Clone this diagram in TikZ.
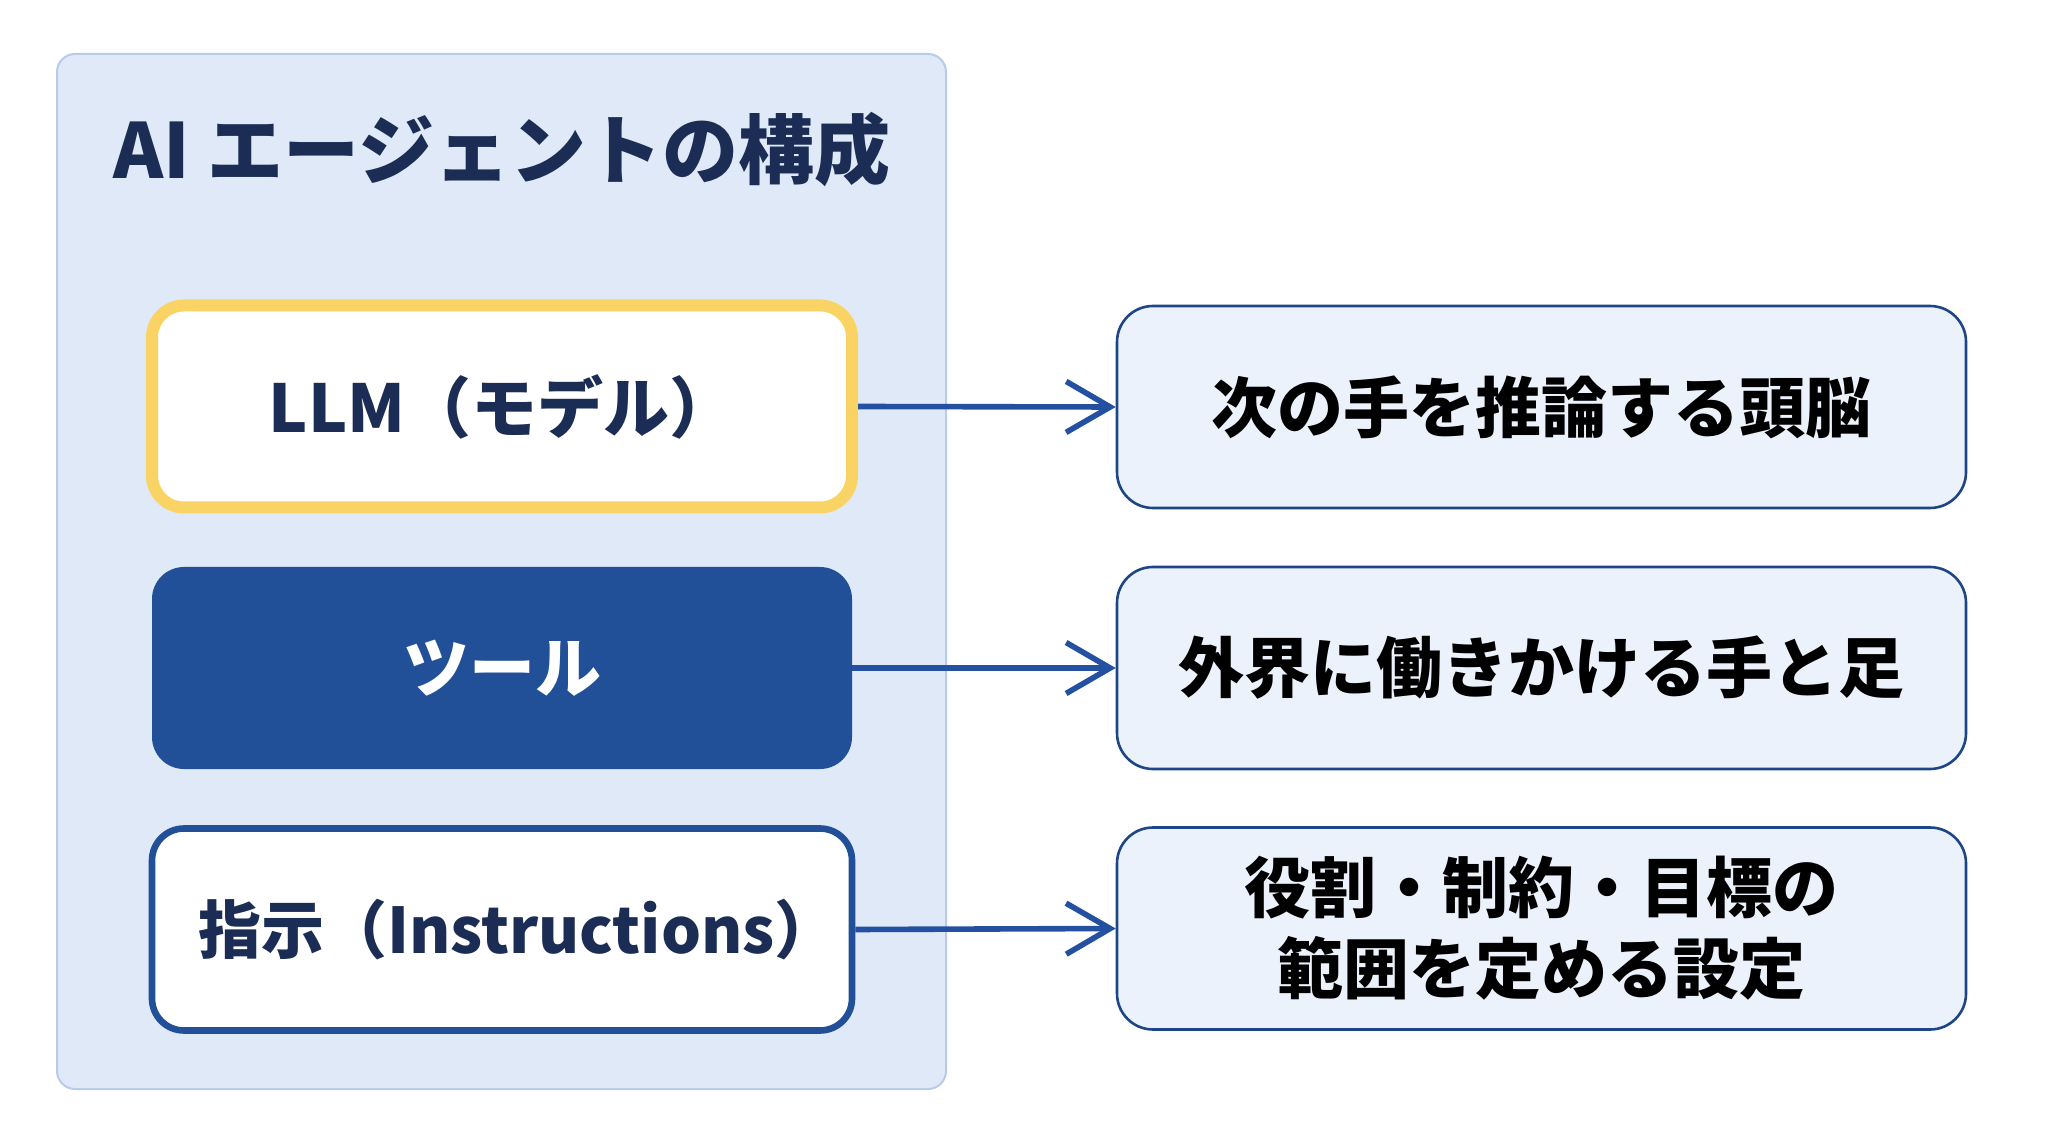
\documentclass[tikz,border=0pt]{standalone}
\usepackage{fontspec}
\setmainfont{Noto Sans CJK JP}[BoldFont={Noto Sans CJK JP Black}]
\usetikzlibrary{arrows.meta}
\definecolor{panelfill}{HTML}{DFE9F7}
\definecolor{panelline}{HTML}{B8CBE8}
\definecolor{llmyellow}{HTML}{F9D465}
\definecolor{toolblue}{HTML}{214F98}
\definecolor{navytext}{HTML}{1B2D55}
\definecolor{rightfill}{HTML}{EBF2FB}
\definecolor{rightline}{HTML}{1E4687}
\definecolor{arrowblue}{HTML}{2350A0}
\tikzset{
  px/.style={x=0.5pt,y=-0.5pt},
  leftbox/.style={rectangle, rounded corners=16pt, minimum width=350pt, minimum height=101pt, inner sep=0pt, align=center,
    font=\fontsize{33}{40.5}\selectfont\bfseries},
  rightbox/.style={rectangle, rounded corners=18pt, draw=rightline, line width=1.3pt, fill=rightfill,
    minimum width=424.5pt, minimum height=101pt, inner sep=0pt, align=center, text=black,
    font=\fontsize{33}{40.5}\selectfont\bfseries},
  conn/.style={draw=arrowblue, line width=2.8pt, -{Straight Barb[length=22pt,width=25.5pt,line width=2.8pt]}}
}
\begin{document}
\begin{tikzpicture}[px]
\useasboundingbox (0,0) rectangle (2048,1143);
\fill[white] (0,0) rectangle (2048,1143);
\node[rectangle, rounded corners=9pt, draw=panelline, line width=1pt, fill=panelfill,
  minimum width=444.5pt, minimum height=517.5pt] (panel) at (501.5,571.5) {};
\node[anchor=west, inner sep=0pt, text=navytext, font=\fontsize{38}{45}\selectfont\bfseries] (title) at (113,150) {AI エージェントの構成};
\node[leftbox, draw=llmyellow, line width=6pt, fill=white, text=navytext] (llm) at (502,406.5) {LLM（モデル）};
\node[leftbox, fill=toolblue, text=white] (tool) at (502,668) {ツール};
\node[leftbox, draw=toolblue, line width=3.3pt, fill=white, text=navytext, font=\fontsize{31.5}{38}\selectfont\bfseries] (instr) at (502,929.5) {\hspace*{16pt}指示（Instructions）};
\node[rightbox] (r1) at (1541.5,407) {次の手を推論する頭脳};
\node[rightbox] (r2) at (1541.5,668) {外界に働きかける手と足};
\node[rightbox] (r3) at (1541.5,928.5) {役割・制約・目標の\\範囲を定める設定};
\draw[conn] (llm.east) -- (r1.west);
\draw[conn] (tool.east) -- (r2.west);
\draw[conn] (instr.east) -- (r3.west);
\end{tikzpicture}
\end{document}
